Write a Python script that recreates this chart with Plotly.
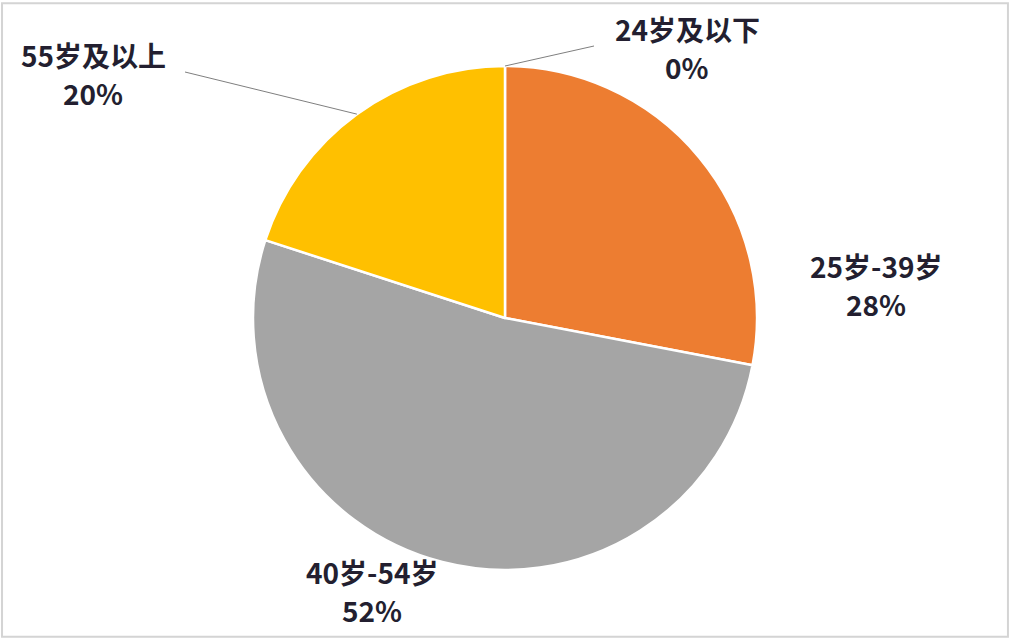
import math
import plotly.graph_objects as go

# age groups and their shares (%)
labels = ['24岁及以下', '25岁-39岁', '40岁-54岁', '55岁及以上']
values = [0, 28, 52, 20]
colors = ['#4472C4', '#ED7D31', '#A5A5A5', '#FFC000']

W, H = 1012, 640
cx, cy, r = 505, 318, 252  # pie centre / radius in pixels

# label centres (pixels): name line, percent line below it
label_pos = [(687, 29), (876, 266), (372, 572), (93, 55)]
line_gap = 38
leader_end = [(594, 46), None, None, (185, 72)]

fig = go.Figure(go.Pie(
    labels=labels,
    values=values,
    sort=False,
    direction='clockwise',
    rotation=0,
    marker=dict(colors=colors, line=dict(color='white', width=2.5)),
    textinfo='none',
    hoverinfo='label+percent',
    showlegend=False,
    domain=dict(x=[(cx - r) / W, (cx + r) / W], y=[1 - (cy + r) / H, 1 - (cy - r) / H]),
))

total = sum(values)
start = 90.0
annotations = []
shapes = []
font = dict(family='Noto Sans CJK SC', size=28, color='#231f30')
for i, (lab, v) in enumerate(zip(labels, values)):
    sweep = 360.0 * v / total
    mid = math.radians(start - sweep / 2)
    start -= sweep
    x, y = label_pos[i]
    for k, txt in enumerate([lab, f'{round(100 * v / total)}%']):
        annotations.append(dict(
            x=x / W, y=1 - (y + k * line_gap) / H, xref='paper', yref='paper',
            xanchor='center', yanchor='middle',
            text=f'<b>{txt}</b>', showarrow=False, font=font,
        ))
    if leader_end[i]:
        px = cx + r * math.cos(mid)
        py = cy - r * math.sin(mid)
        ex, ey = leader_end[i]
        shapes.append(dict(type='line', xref='paper', yref='paper',
                           x0=px / W, y0=1 - py / H, x1=ex / W, y1=1 - ey / H,
                           line=dict(color='#7f7f7f', width=1)))

shapes.append(dict(type='rect', xref='paper', yref='paper',
                   x0=0.002, y0=0.005, x1=0.996, y1=0.995,
                   line=dict(color='#d4d4d4', width=2)))

fig.update_layout(
    width=W, height=H,
    margin=dict(l=0, r=0, t=0, b=0),
    paper_bgcolor='white',
    plot_bgcolor='white',
    annotations=annotations,
    shapes=shapes,
)

fig.write_html("out.html", config={'displayModeBar': False},
               post_script="document.body.style.margin='0';")
